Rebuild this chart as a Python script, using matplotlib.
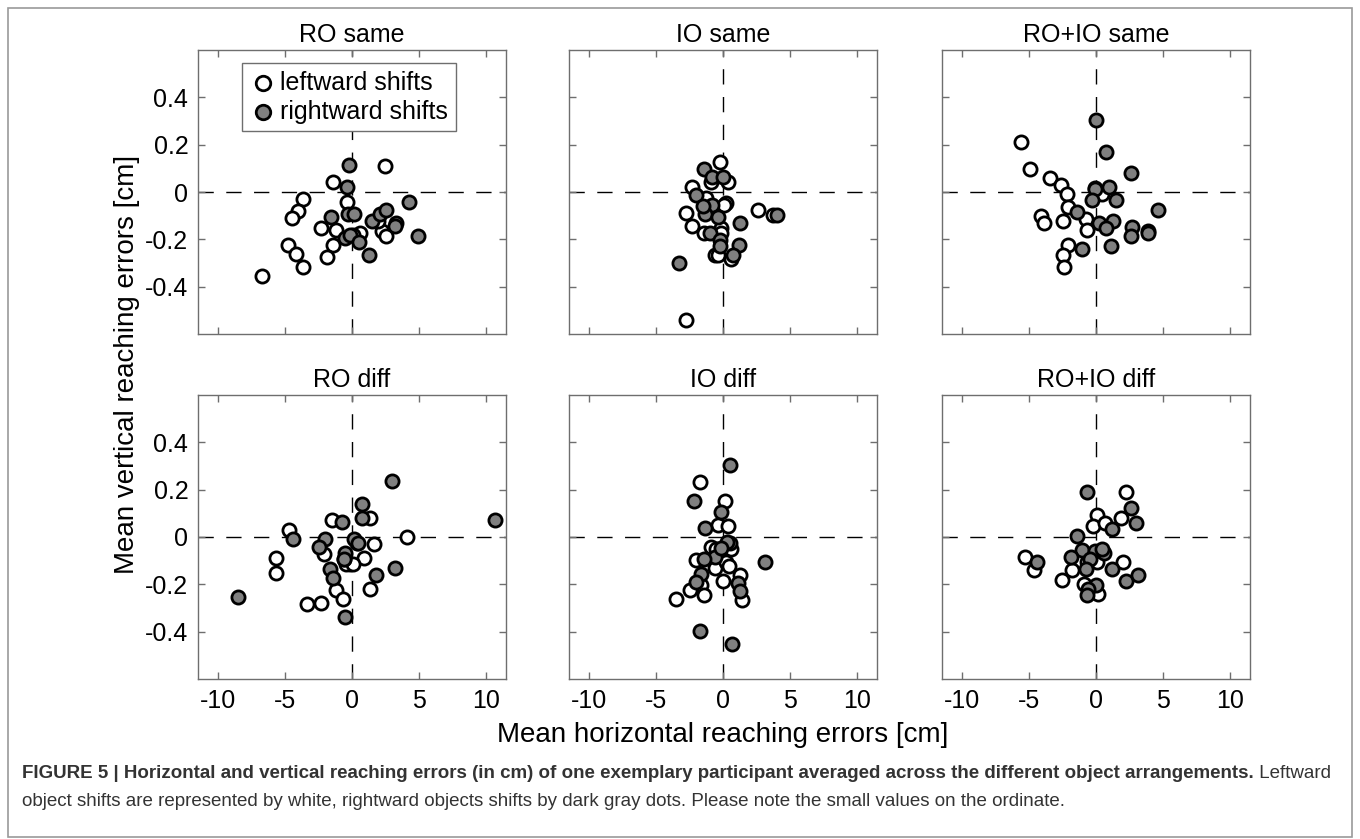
import matplotlib
matplotlib.use("Agg")
import matplotlib.pyplot as plt
from matplotlib.patches import Rectangle

plt.rcParams["font.family"] = ["Liberation Sans", "DejaVu Sans"]

titulos = ["RO same", "IO same", "RO+IO same", "RO diff", "IO diff", "RO+IO diff"]

# leftward shifts (white), rightward shifts (gray)
ro_same_esq_x = [-6.75, -3.65, -4.02, -4.47, -4.76, -4.19, -3.65, -1.41, -2.28, -1.17, -1.41, -1.84,
                 -0.37, 0.62, 2.43, 2.26, 2.51, 1.94, 0.1]
ro_same_esq_y = [-0.355, -0.028, -0.081, -0.109, -0.223, -0.261, -0.319, 0.043, -0.152, -0.162, -0.223,
                 -0.275, -0.043, -0.173, 0.108, -0.166, -0.187, -0.123, -0.18]
ro_same_dir_x = [-0.25, -0.37, -0.30, 0.12, -1.54, -0.55, -0.17, 0.52, 1.27, 1.51, 2.11, 2.56, 3.30,
                 3.18, 4.24, 4.94]
ro_same_dir_y = [0.113, 0.023, -0.092, -0.092, -0.106, -0.194, -0.18, -0.211, -0.265, -0.123, -0.091,
                 -0.074, -0.130, -0.145, -0.043, -0.187]

io_same_esq_x = [-0.25, -0.87, 0.37, -2.28, -1.24, 0.2, 0.05, -2.78, -2.28, 2.61, 3.72, -0.12, -0.12,
                 -0.62, -0.37, 0.62, -2.78, -1.41]
io_same_esq_y = [0.125, 0.043, 0.043, 0.023, -0.024, -0.048, -0.057, -0.088, -0.142, -0.078, -0.099,
                 -0.152, -0.173, -0.265, -0.265, -0.284, -0.542, -0.173]
io_same_dir_x = [-1.41, -0.82, 0.0, -2.03, -0.82, -1.36, -0.37, 1.29, 4.02, -0.99, -0.2, -0.25, 1.19,
                 0.74, -3.28, -1.46]
io_same_dir_y = [0.096, 0.065, 0.065, -0.014, -0.057, -0.095, -0.105, -0.130, -0.099, -0.173, -0.201,
                 -0.23, -0.223, -0.265, -0.301, -0.06]

roio_same_esq_x = [-5.58, -4.96, -3.47, -2.61, -2.18, -2.11, -4.09, -3.85, -2.48, -0.77, -0.69, -2.06,
                   -2.48, -2.36, -0.07, 0.42]
roio_same_esq_y = [0.210, 0.096, 0.058, 0.028, -0.010, -0.062, -0.102, -0.130, -0.123, -0.116, -0.162,
                   -0.223, -0.265, -0.319, 0.018, -0.010]
roio_same_dir_x = [0.0, 0.72, 2.61, -0.07, 0.97, -0.27, 1.46, -1.44, 4.64, 0.22, 1.24, 0.72, 2.70, 2.61,
                   3.90, 3.90, -1.07, 1.14]
roio_same_dir_y = [0.305, 0.167, 0.079, 0.011, 0.023, -0.034, -0.034, -0.085, -0.078, -0.130, -0.123,
                   -0.152, -0.149, -0.187, -0.166, -0.173, -0.240, -0.230]

ro_diff_esq_x = [-4.71, -5.68, -5.68, -2.08, -1.46, 1.32, 4.09, 1.61, 0.87, -0.17, -0.47, 0.07, -0.62,
                 -1.17, -0.67, -2.28, -3.35, 1.36, 0.37]
ro_diff_esq_y = [0.028, -0.088, -0.152, -0.071, 0.071, 0.081, 0.0, -0.028, -0.088, -0.113, -0.113,
                 -0.113, -0.091, -0.223, -0.26, -0.277, -0.284, -0.22, -0.024]
ro_diff_dir_x = [-8.49, -4.39, -2.03, -2.46, -0.74, -0.55, -0.62, -1.66, -1.41, -0.55, 0.12, 0.45, 0.74,
                 0.74, 3.0, 3.18, 1.76, 10.67]
ro_diff_dir_y = [-0.255, -0.01, -0.007, -0.043, 0.064, -0.068, -0.092, -0.135, -0.174, -0.340, -0.007,
                 -0.024, 0.139, 0.081, 0.237, -0.130, -0.160, 0.072]

io_diff_esq_x = [-1.74, 0.17, -0.37, 0.37, -0.87, -0.5, 0.62, -1.99, -0.62, 0.2, 0.45, 1.29, 0.0, -1.61,
                 -2.43, -1.41, -3.52, 1.44]
io_diff_esq_y = [0.231, 0.152, 0.052, 0.045, -0.043, -0.05, -0.052, -0.099, -0.132, -0.104, -0.123,
                 -0.159, -0.184, -0.203, -0.223, -0.245, -0.26, -0.265]
io_diff_dir_x = [0.55, -2.18, -0.12, -1.36, 0.5, 0.32, -0.62, -1.44, -1.61, -2.03, 3.10, 1.12, 1.29,
                 -1.74, 0.67, -0.12]
io_diff_dir_y = [0.305, 0.152, 0.104, 0.038, -0.024, -0.021, -0.085, -0.095, -0.156, -0.191, -0.106,
                 -0.194, -0.230, -0.397, -0.450, -0.047]

roio_diff_esq_x = [2.21, 0.1, -0.2, 0.67, 1.86, -5.33, -4.62, -1.81, -2.51, 0.1, 1.99, -0.87, 0.17, -0.69]
roio_diff_esq_y = [0.189, 0.095, 0.045, 0.060, 0.081, -0.085, -0.139, -0.138, -0.180, -0.106, -0.104,
                   -0.199, -0.241, -0.106]
roio_diff_dir_x = [-0.69, 2.61, 2.98, 1.22, -1.44, -1.07, -0.07, 0.62, 0.47, -1.86, -0.45, -4.42, -0.77,
                   1.17, 2.21, 3.1, -0.02, -0.57, -0.69]
roio_diff_dir_y = [0.191, 0.121, 0.060, 0.035, 0.003, -0.057, -0.061, -0.068, -0.05, -0.085, -0.092,
                   -0.106, -0.135, -0.135, -0.184, -0.159, -0.203, -0.220, -0.245]

esquerda = [
    (ro_same_esq_x, ro_same_esq_y), (io_same_esq_x, io_same_esq_y), (roio_same_esq_x, roio_same_esq_y),
    (ro_diff_esq_x, ro_diff_esq_y), (io_diff_esq_x, io_diff_esq_y), (roio_diff_esq_x, roio_diff_esq_y),
]
direita = [
    (ro_same_dir_x, ro_same_dir_y), (io_same_dir_x, io_same_dir_y), (roio_same_dir_x, roio_same_dir_y),
    (ro_diff_dir_x, ro_diff_dir_y), (io_diff_dir_x, io_diff_dir_y), (roio_diff_dir_x, roio_diff_dir_y),
]

xticks = [-10, -5, 0, 5, 10]
yticks = [-0.4, -0.2, 0, 0.2, 0.4]
ytick_labels = ["-0.4", "-0.2", "0", "0.2", "0.4"]

W, H = 1360, 839
fig = plt.figure(figsize=(W / 100, H / 100), dpi=100)

col_left = [198, 569, 942]
row_top = [50, 395]
ax_w, ax_h = 308, 284
cinza_eixo = "#6e6e6e"

for i in range(6):
    lin, col = divmod(i, 3)
    l = col_left[col] / W
    b = 1 - (row_top[lin] + ax_h) / H
    ax = fig.add_axes([l, b, ax_w / W, ax_h / H])

    ax.axhline(0, color="black", lw=1.0, dashes=(11, 9), zorder=1)
    ax.axvline(0, color="black", lw=1.0, dashes=(11, 9), zorder=1)

    ex, ey = esquerda[i]
    dx, dy = direita[i]
    ax.scatter(ex, ey, s=90, facecolor="white", edgecolor="black", linewidth=2.0, zorder=3,
               label="leftward shifts")
    ax.scatter(dx, dy, s=90, facecolor="#808080", edgecolor="black", linewidth=2.0, zorder=3,
               label="rightward shifts")

    ax.set_xlim(-11.5, 11.5)
    ax.set_ylim(-0.6, 0.6)
    ax.set_xticks(xticks)
    ax.set_yticks(yticks)
    ax.tick_params(direction="in", length=5, width=1, color=cinza_eixo, top=True, right=True,
                   labelsize=18, pad=7)
    if lin == 1:
        ax.set_xticklabels([str(t) for t in xticks])
    else:
        ax.set_xticklabels([])
    if col == 0:
        ax.set_yticklabels(ytick_labels)
    else:
        ax.set_yticklabels([])
    for sp in ax.spines.values():
        sp.set_color(cinza_eixo)
        sp.set_linewidth(1.0)
    ax.set_title(titulos[i], fontsize=18, pad=6)

    if i == 0:
        leg = ax.legend(loc="upper left", bbox_to_anchor=(0.142, 0.954), borderaxespad=0,
                        fontsize=18, frameon=True, fancybox=False, handletextpad=0.15,
                        borderpad=0.3, labelspacing=0.2, handlelength=1.1, framealpha=1,
                        markerscale=1.1)
        leg.get_frame().set_edgecolor(cinza_eixo)
        leg.get_frame().set_linewidth(1.0)
        leg.set_zorder(5)

fig.text(127 / W, 1 - 364 / H, "Mean vertical reaching errors [cm]", rotation=90,
         ha="center", va="center", fontsize=20)
fig.text(723 / W, 1 - 735 / H, "Mean horizontal reaching errors [cm]",
         ha="center", va="center", fontsize=20)

# moldura externa
fig.patches.append(Rectangle((8 / W, 2 / H), 1344 / W, 829 / H, transform=fig.transFigure,
                             fill=False, edgecolor="#9a9a9a", linewidth=1.2))

# legenda da figura
cor_txt = "#333333"
tam = 13.5
negrito = ("FIGURE 5 | Horizontal and vertical reaching errors (in cm) of one exemplary participant "
           "averaged across the different object arrangements.")
t1 = fig.text(22 / W, 1 - 774 / H, negrito, fontsize=tam, fontweight="bold", color=cor_txt,
              ha="left", va="center")
fig.canvas.draw()
bb = t1.get_window_extent(renderer=fig.canvas.get_renderer())
fig.text(bb.x1 / W, 1 - 774 / H, " Leftward", fontsize=tam, color=cor_txt, ha="left", va="center")
fig.text(22 / W, 1 - 802 / H,
         "object shifts are represented by white, rightward objects shifts by dark gray dots. "
         "Please note the small values on the ordinate.",
         fontsize=tam, color=cor_txt, ha="left", va="center")

fig.savefig("out.png", dpi=100)
